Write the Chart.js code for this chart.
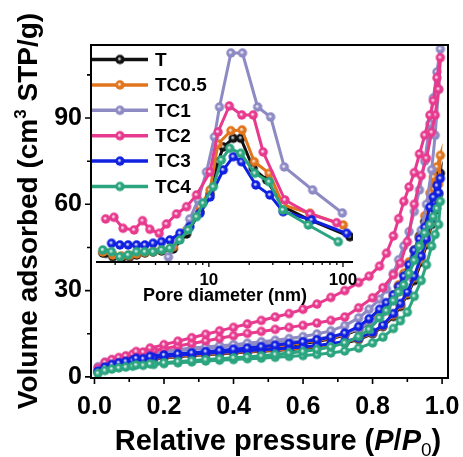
<!DOCTYPE html>
<html>
<head>
<meta charset="utf-8">
<script src="https://cdn.jsdelivr.net/npm/chart.js@4.4.0/dist/chart.umd.min.js"></script>
<style>
  html, body { margin: 0; padding: 0; background: #fff; }
  #wrap { position: relative; width: 463px; height: 457px; }
  #wrap canvas { position: absolute; left: 0; top: 0; }
</style>
</head>
<body>
<div id="wrap">
  <canvas id="iso" width="463" height="457"></canvas>
  <canvas id="psd" width="463" height="457"></canvas>
</div>
<script>
// samples
const names = ['T', 'TC0.5', 'TC1', 'TC2', 'TC3', 'TC4'];
const colors = ['#111111', '#E0751E', '#8E8AC4', '#E73A8E', '#1020E0', '#2BA57F'];

// N2 isotherms: relative pressure grids
const adsP = [0.01,0.03,0.05,0.07,0.09,0.11,0.14,0.17,0.20,0.24,0.28,0.32,0.36,0.40,0.44,0.48,0.52,0.56,0.60,0.64,0.68,0.72,0.76,0.80,0.83,0.86,0.88,0.90,0.92,0.94,0.955,0.97,0.98,0.99,0.995];
const desP = [0.985,0.975,0.965,0.95,0.935,0.92,0.905,0.89,0.875,0.86,0.84,0.82,0.79,0.76,0.72,0.68,0.64,0.60,0.56,0.52,0.48,0.44,0.40,0.36,0.32,0.28,0.24,0.20,0.16,0.12];

// volume adsorbed (cm3 STP/g)
const adsT   = [1.6,2.9,3.8,4.4,4.9,5.3,5.8,6.2,6.6,7.0,7.4,7.7,8.0,8.3,8.6,8.9,9.2,9.5,9.9,10.4,11.0,11.8,13.0,15.0,17.5,21.0,24.5,28.5,33.5,40.0,46,53,58,63.5,70.8];
const desT   = [67,63,59.5,54,49,44,39.5,35.5,31.5,28,24.5,21.8,18.8,16.5,14.5,13.2,12.3,11.6,11.0,10.4,9.9,9.4,9.0,8.6,8.2,7.8,7.4,7.0,6.5,5.9];
const adsTC05 = [1.8,3.1,4.0,4.6,5.1,5.5,6.0,6.4,6.8,7.2,7.6,7.9,8.2,8.5,8.8,9.1,9.4,9.7,10.1,10.6,11.2,12.0,13.3,15.3,17.8,21.5,25,29,34.5,41,47,54,60,67,77];
const desTC05 = [73,69.5,63.9,56,48.5,44,40,36,32,28.5,25,22.3,19.2,16.8,14.8,13.5,12.6,11.9,11.2,10.6,10.1,9.6,9.2,8.8,8.4,8.0,7.6,7.2,6.7,6.1];
const adsTC1 = [3.5,5.0,5.8,6.3,6.8,7.2,7.7,8.2,8.6,9.1,9.6,10.0,10.4,10.8,11.1,11.4,11.8,12.2,12.6,13.2,14.0,15.0,16.8,19.5,22.5,26.5,30,35,42,51,60,72,84,100,114];
const desTC1 = [106,97,88,75,65,57.5,50.5,45.5,40.7,36,30.5,27,23.5,20.5,17.8,16.0,14.9,14.0,13.3,12.7,12.2,11.7,11.2,10.8,10.4,10.0,9.5,9.0,8.4,7.7];
const adsTC2 = [3.0,5.0,6.0,6.7,7.3,7.9,8.6,9.2,9.8,10.7,11.6,12.5,13.4,14.3,15.1,15.8,16.5,17.2,17.9,18.7,19.6,20.8,24,27.5,31,35.5,39.5,47,60,70,76,85,91,100,111];
const desTC2 = [104,96,91,84,77.5,71,66,61,55,49,43,38.5,35,32.8,30,27.6,25.3,23.5,22.0,20.8,19.6,18.4,17.2,16.0,14.8,13.6,12.4,11.2,10.0,8.8];
const adsTC3 = [2.0,3.4,4.3,4.9,5.4,5.8,6.3,6.7,7.1,7.5,7.9,8.2,8.5,8.8,9.1,9.4,9.7,10.0,10.4,10.9,11.5,12.3,13.5,15.5,18,22,25.5,29.5,35,42,48,55,59,64,69];
const desTC3 = [66.5,62.5,59,52,48,44,39,35,31.4,28.5,25.8,23.5,20.2,17.5,15.2,13.8,12.9,12.2,11.6,11.0,10.5,10.0,9.6,9.2,8.8,8.4,8.0,7.6,7.1,6.5];
const adsTC4 = [1.2,2.2,2.7,3.1,3.4,3.7,4.0,4.3,4.6,4.9,5.2,5.5,5.8,6.0,6.3,6.5,6.8,7.1,7.4,7.8,8.3,9.0,10.0,11.8,13.8,16.8,19.5,22.5,28,33.5,39,45.5,49.5,53,61];
const desTC4 = [58.5,55.7,53,50,45.5,40.5,36,32,29.5,26.5,23,20.5,16.5,14,11.8,10.4,9.5,8.8,8.3,7.8,7.3,6.9,6.6,6.3,6.0,5.6,5.3,4.9,4.5,4.1];

const xMajor = [0, 0.2, 0.4, 0.6, 0.8, 1.0];
const yMajor = [0, 30, 60, 90];

// pore size distribution (inset): diameter (nm) and dV/dlogD (arb. units)
const psdTd = [1.62,1.70,1.92,2.23,2.57,2.89,3.33,3.84,4.44,5.42,6.82,8.57,10.2,11.7,12.8,15.2,17.3,21.4,27.0,35.8,56.7,112.7];
const psdTv = [9,8.7,5.3,3.7,5.3,7,9,10,11,13,28,50,68,100,115,123.7,123.7,93.7,82,55.3,42,25.3];
const psdTC05d = [1.62,1.92,2.23,2.57,2.89,3.33,3.84,4.44,5.42,6.82,8.57,10.2,11.7,14.6,17.7,21.8,28.2,35.8,56.7,100.5];
const psdTC05v = [10,7,6,6.5,8,9.5,10.5,12,15.3,32,55.3,72,118,131.3,132,100.3,88.7,57,48.7,37];
const psdTC1d = [5.0,6.0,7.2,8.3,9.6,11.0,12.0,14.6,17.8,23.1,28.9,36.5,59.4,98.9];
const psdTC1v = [5,24,43,62,90,125,155,209,209,155,145,95,72,49];
const psdTC2d = [1.70,1.96,2.29,2.77,3.20,3.63,4.26,4.83,5.74,6.82,8.09,10.2,11.7,14.2,17.6,21.4,25.4,36.9,57,89.7];
const psdTC2v = [43,44.7,33.7,32,41.3,32.7,28.7,38,48,55.3,67,90,130,156,147,147,110,62,48,39.3];
const psdTC3d = [1.88,2.17,2.5,2.89,3.33,3.84,4.44,5.12,6.08,7.21,8.57,10.2,12.8,15.2,17.5,22.4,28.5,35.8,58.4,106.6];
const psdTC3v = [18.7,17,17,17,17,18.7,20.3,22,28.7,35.3,48.7,65,92,105.3,100.3,77,67,50.3,42,28.7];
const psdTC4d = [1.62,1.88,2.17,2.5,2.89,3.33,3.84,4.44,5.12,6.08,7.01,8.09,9.06,10.8,12.4,14.3,17.3,22.0,28.2,35.6,55.1,92.3];
const psdTC4v = [12,10.3,5.3,7,10.3,10.3,10.3,12,13.7,22,32,45.3,58.7,75.3,102,113.7,108.7,88.7,80.3,52,37,20.3];

const adsAll = [adsT, adsTC05, adsTC1, adsTC2, adsTC3, adsTC4];
const desAll = [desT, desTC05, desTC1, desTC2, desTC3, desTC4];
const psdD = [psdTd, psdTC05d, psdTC1d, psdTC2d, psdTC3d, psdTC4d];
const psdV = [psdTv, psdTC05v, psdTC1v, psdTC2v, psdTC3v, psdTC4v];

Chart.defaults.font.family = "'Liberation Sans', Arial, Helvetica, sans-serif";
Chart.defaults.color = '#000';
const FF = "'Liberation Sans', Arial, sans-serif";

// shaded ball marker
function ball(color, r) {
  const c = document.createElement('canvas');
  const s = Math.ceil(r * 2) + 2;
  c.width = c.height = s;
  const g = c.getContext('2d');
  const grd = g.createRadialGradient(s / 2 - 0.8, s / 2 - 0.8, 0.2, s / 2, s / 2, r);
  grd.addColorStop(0, 'rgba(255,255,255,0.95)');
  grd.addColorStop(0.45, color);
  grd.addColorStop(1, color);
  g.fillStyle = grd;
  g.beginPath();
  g.arc(s / 2, s / 2, r, 0, Math.PI * 2);
  g.fill();
  return c;
}
const balls = colors.map(c => ball(c, 4.7));

function loop(i) {
  const a = adsP.map((p, k) => ({x: p, y: adsAll[i][k]}));
  const d = desP.map((p, k) => ({x: p, y: desAll[i][k]}));
  return a.concat(d);
}

function rich(ctx, parts, x, y) {
  let w = 0;
  parts.forEach(p => { ctx.font = p.f; w += ctx.measureText(p.t).width; });
  let cx = x - w / 2;
  parts.forEach(p => {
    ctx.font = p.f;
    ctx.fillText(p.t, cx, y + (p.dy || 0));
    cx += ctx.measureText(p.t).width;
  });
}

// keep tick labels from shrinking the plot area
function noEdgePad(s) {
  s.paddingLeft = 0; s.paddingRight = 0; s.paddingTop = 0; s.paddingBottom = 0;
}

const isoDecor = {
  id: 'isoDecor',
  afterDraw(chart) {
    const {ctx, chartArea: a, scales: {x, y}} = chart;
    ctx.save();
    ctx.strokeStyle = '#000';
    ctx.lineWidth = 2;
    ctx.strokeRect(a.left, a.top, a.right - a.left, a.bottom - a.top);
    ctx.lineWidth = 1.6;
    ctx.beginPath();
    for (let k = 0; k <= 10; k++) {
      const px = x.getPixelForValue(k / 10);
      ctx.moveTo(px, a.bottom);
      ctx.lineTo(px, a.bottom + (k % 2 === 0 ? 6 : 4));
    }
    for (let k = 0; k <= 7; k++) {
      const py = y.getPixelForValue(k * 15);
      ctx.moveTo(a.left, py);
      ctx.lineTo(a.left - (k % 2 === 0 ? 6 : 4), py);
    }
    ctx.stroke();

    ctx.fillStyle = '#000';
    ctx.textBaseline = 'alphabetic';
    rich(ctx, [
      {t: 'Relative pressure (', f: 'bold 29px ' + FF},
      {t: 'P', f: 'italic bold 29px ' + FF},
      {t: '/', f: 'bold 29px ' + FF},
      {t: 'P', f: 'italic bold 29px ' + FF},
      {t: '0', f: '19px ' + FF, dy: 6},
      {t: ')', f: 'bold 29px ' + FF}
    ], 278, 450);

    ctx.translate(37, 211);
    ctx.rotate(-Math.PI / 2);
    rich(ctx, [
      {t: 'Volume adsorbed (cm', f: 'bold 28px ' + FF},
      {t: '3', f: 'bold 17px ' + FF, dy: -11},
      {t: ' STP/g)', f: 'bold 28px ' + FF}
    ], 0, 0);
    ctx.restore();
  }
};

new Chart('iso', {
  type: 'scatter',
  data: {
    datasets: names.map((n, i) => ({
      label: n,
      data: loop(i),
      showLine: true,
      borderColor: colors[i],
      borderWidth: 3,
      pointStyle: balls[i],
      pointRadius: 4,
      order: names.length - i
    }))
  },
  options: {
    responsive: false,
    animation: false,
    layout: {padding: {top: 45, right: 15, left: 0, bottom: 0}},
    plugins: {legend: {display: false}, tooltip: {enabled: false}},
    scales: {
      x: {
        type: 'linear', min: -0.01, max: 1.017,
        grid: {display: false, drawTicks: false},
        border: {display: false},
        afterBuildTicks: s => { s.ticks = xMajor.map(v => ({value: v})); },
        afterFit: s => { s.height = 79; noEdgePad(s); },
        ticks: {font: {size: 25, weight: 'bold'}, color: '#000', padding: 14,
                maxRotation: 0, autoSkip: false, callback: v => Number(v).toFixed(1)}
      },
      y: {
        type: 'linear', min: -0.4, max: 115.4,
        grid: {display: false, drawTicks: false},
        border: {display: false},
        afterBuildTicks: s => { s.ticks = yMajor.map(v => ({value: v})); },
        afterFit: s => { s.width = 91; noEdgePad(s); },
        ticks: {font: {size: 25, weight: 'bold'}, color: '#000', padding: 9, autoSkip: false}
      }
    }
  },
  plugins: [isoDecor]
});

// inset
const psdDecor = {
  id: 'psdDecor',
  afterDraw(chart) {
    const {ctx, chartArea: a, scales: {x}} = chart;
    ctx.save();
    ctx.strokeStyle = '#000';
    ctx.lineWidth = 2;
    ctx.beginPath();
    ctx.moveTo(a.left, a.bottom);
    ctx.lineTo(a.right, a.bottom);
    ctx.stroke();
    ctx.lineWidth = 1.3;
    ctx.beginPath();
    [1, 10, 100].forEach(dec => {
      for (let m = 1; m <= 9; m++) {
        const v = dec * m;
        if (v < x.min || v > x.max) continue;
        const px = x.getPixelForValue(v);
        ctx.moveTo(px, a.bottom);
        ctx.lineTo(px, a.bottom + (m === 1 ? 5 : 3));
      }
    });
    ctx.stroke();

    ctx.fillStyle = '#000';
    ctx.font = 'bold 18px ' + FF;
    ctx.textAlign = 'center';
    ctx.textBaseline = 'alphabetic';
    ctx.fillText('Pore diameter (nm)', 225, 301);

    // legend
    ctx.textAlign = 'left';
    ctx.textBaseline = 'middle';
    ctx.font = 'bold 19px ' + FF;
    names.forEach((n, i) => {
      const ly = 59.5 + i * 25.4;
      ctx.strokeStyle = colors[i];
      ctx.lineWidth = 3.5;
      ctx.beginPath();
      ctx.moveTo(92, ly);
      ctx.lineTo(148, ly);
      ctx.stroke();
      ctx.drawImage(balls[i], 120 - balls[i].width / 2, ly - balls[i].height / 2);
      ctx.fillText(n, 155, ly + 1);
    });
    ctx.restore();
  }
};

new Chart('psd', {
  type: 'scatter',
  data: {
    datasets: names.map((n, i) => ({
      label: n,
      data: psdD[i].map((d, k) => ({x: d, y: psdV[i][k]})),
      showLine: true,
      borderColor: colors[i],
      borderWidth: 3,
      pointStyle: balls[i],
      pointRadius: 4,
      order: names.length - i
    }))
  },
  options: {
    responsive: false,
    animation: false,
    layout: {padding: {top: 45, right: 110, left: 96, bottom: 0}},
    plugins: {legend: {display: false}, tooltip: {enabled: false}},
    scales: {
      x: {
        type: 'logarithmic', min: 1.44, max: 118.8,
        grid: {display: false, drawTicks: false},
        border: {display: false},
        afterBuildTicks: s => { s.ticks = [10, 100].map(v => ({value: v})); },
        afterFit: s => { s.height = 195; noEdgePad(s); },
        ticks: {font: {size: 17, weight: 'bold'}, color: '#000', padding: 8,
                maxRotation: 0, autoSkip: false, callback: v => String(v)}
      },
      y: {type: 'linear', min: 0, max: 217, display: false}
    }
  },
  plugins: [psdDecor]
});
</script>
</body>
</html>
